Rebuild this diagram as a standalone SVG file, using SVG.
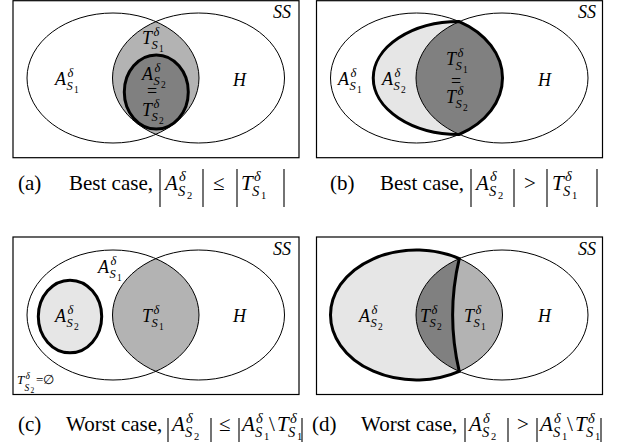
<svg xmlns="http://www.w3.org/2000/svg" width="619" height="444" viewBox="0 0 619 444" font-family="'Liberation Serif', 'Times New Roman', Times, serif">
<style>
.box{fill:none;stroke:#000;stroke-width:1.2}
.thin{fill:none;stroke:#000;stroke-width:1}
.thick{fill:none;stroke:#000;stroke-width:3}
.dl{stroke:#000;stroke-width:1.1}
.l{font-style:italic;font-size:18px}
.s{font-style:italic;font-size:12.5px}
.d{font-size:9.5px}
.u{font-size:18px}
.cap{font-size:21px}
.ci{font-style:italic;font-size:21px}
.cs{font-style:italic;font-size:14.5px}
.cd{font-size:10.5px}
.g1{fill:#e6e6e6}
.g2{fill:#b3b3b3}
.g3{fill:#808080}
</style>

<!-- Panel (a) -->
<g id="panel-a">
  <rect class="box" x="13" y="0.7" width="286" height="157"/>
  <path class="g2" d="M155.75 21.6 A86 65 0 0 1 155.75 134.4 A86 65 0 0 1 155.75 21.6 Z"/>
  <ellipse class="g3" cx="156.3" cy="92" rx="32" ry="37"/>
  <ellipse class="thin" cx="113" cy="78" rx="86" ry="65"/>
  <ellipse class="thin" cx="198.5" cy="78" rx="86" ry="65"/>
  <ellipse class="thick" cx="156.3" cy="92" rx="32" ry="37"/>
  <text class="l" x="291" y="18" text-anchor="end">SS</text>
  <g id="a-AS1"><text class="l" x="55" y="85">A</text><text class="s" x="67.5" y="77">δ</text><text class="s" x="66.5" y="90">S</text><text class="d" x="74" y="93">1</text></g>
  <g id="a-TS1"><text class="l" x="142" y="44">T</text><text class="s" x="153.5" y="36">δ</text><text class="s" x="151.5" y="49">S</text><text class="d" x="159" y="52">1</text></g>
  <g id="a-AS2"><text class="l" x="142" y="80">A</text><text class="s" x="154.5" y="72">δ</text><text class="s" x="153.5" y="85">S</text><text class="d" x="161" y="88">2</text></g>
  <text class="u" x="147" y="97">=</text>
  <g id="a-TS2"><text class="l" x="142" y="116">T</text><text class="s" x="153.5" y="108">δ</text><text class="s" x="151.5" y="121">S</text><text class="d" x="159" y="124">2</text></g>
  <text class="l" x="233" y="86">H</text>
</g>

<!-- Panel (b) -->
<g id="panel-b">
  <rect class="box" x="316.5" y="0.7" width="286" height="157"/>
  <path class="g1" d="M459.25 21.6 A86 56.4 0 0 0 459.25 134.4 A86 65 0 0 0 459.25 21.6 Z"/>
  <path class="g3" d="M459.25 21.6 A86 65 0 0 1 459.25 134.4 A86 65 0 0 1 459.25 21.6 Z"/>
  <ellipse class="thin" cx="416.5" cy="78" rx="86" ry="65"/>
  <ellipse class="thin" cx="502" cy="78" rx="86" ry="65"/>
  <path class="thick" d="M459.25 21.6 A86 56.4 0 0 0 459.25 134.4 A86 65 0 0 0 459.25 21.6 Z"/>
  <text class="l" x="596" y="18" text-anchor="end">SS</text>
  <g id="b-AS1"><text class="l" x="338" y="85">A</text><text class="s" x="350.5" y="77">δ</text><text class="s" x="349.5" y="90">S</text><text class="d" x="357" y="93">1</text></g>
  <g id="b-AS2"><text class="l" x="382" y="85">A</text><text class="s" x="394.5" y="77">δ</text><text class="s" x="393.5" y="90">S</text><text class="d" x="401" y="93">2</text></g>
  <g id="b-TS1"><text class="l" x="446" y="65">T</text><text class="s" x="457.5" y="57">δ</text><text class="s" x="455.5" y="70">S</text><text class="d" x="463" y="73">1</text></g>
  <text class="u" x="451" y="87">=</text>
  <g id="b-TS2"><text class="l" x="446" y="103">T</text><text class="s" x="457.5" y="95">δ</text><text class="s" x="455.5" y="108">S</text><text class="d" x="463" y="111">2</text></g>
  <text class="l" x="538" y="86">H</text>
</g>

<!-- Panel (c) -->
<g id="panel-c">
  <rect class="box" x="13" y="237" width="286" height="157.5"/>
  <path class="g2" d="M155.75 258.6 A86 65 0 0 1 155.75 371.4 A86 65 0 0 1 155.75 258.6 Z"/>
  <ellipse class="g1" cx="70" cy="316.5" rx="31.7" ry="36.3"/>
  <ellipse class="thin" cx="113" cy="315" rx="86" ry="65"/>
  <ellipse class="thin" cx="198.5" cy="315" rx="86" ry="65"/>
  <ellipse class="thick" cx="70" cy="316.5" rx="31.7" ry="36.3"/>
  <text class="l" x="291" y="255" text-anchor="end">SS</text>
  <g id="c-AS1"><text class="l" x="98" y="273">A</text><text class="s" x="110.5" y="265">δ</text><text class="s" x="109.5" y="278">S</text><text class="d" x="117" y="281">1</text></g>
  <g id="c-AS2"><text class="l" x="55" y="322">A</text><text class="s" x="67.5" y="314">δ</text><text class="s" x="66.5" y="327">S</text><text class="d" x="74" y="330">2</text></g>
  <g id="c-TS1"><text class="l" x="142" y="322">T</text><text class="s" x="153.5" y="314">δ</text><text class="s" x="151.5" y="327">S</text><text class="d" x="159" y="330">1</text></g>
  <text class="l" x="233" y="322">H</text>
  <g id="c-TS2-empty"><text class="l" x="17" y="384" style="font-size:13px">T</text><text class="s" x="25.5" y="378.5" style="font-size:9.5px">δ</text><text class="s" x="24.5" y="391" style="font-size:9.5px">S</text><text class="d" x="30.5" y="393" style="font-size:7.5px">2</text><text class="u" x="36" y="384" style="font-size:13px">=∅</text></g>
</g>

<!-- Panel (d) -->
<g id="panel-d">
  <rect class="box" x="316.5" y="237" width="286" height="157.5"/>
  <ellipse class="g1" cx="416.5" cy="315" rx="86" ry="65"/>
  <path class="g3" d="M459.25 258.6 A86 65 0 0 1 459.25 371.4 A86 65 0 0 1 459.25 258.6 Z"/>
  <path class="g2" d="M459.25 258.6 Q446 315 459.25 371.4 A86 65 0 0 0 459.25 258.6 Z"/>
  <ellipse class="thin" cx="416.5" cy="315" rx="86" ry="65"/>
  <ellipse class="thin" cx="502" cy="315" rx="86" ry="65"/>
  <path class="thick" d="M459.25 258.6 A86 65 0 1 0 459.25 371.4 Q446 315 459.25 258.6 Z"/>
  <text class="l" x="596" y="255" text-anchor="end">SS</text>
  <g id="d-AS2"><text class="l" x="359" y="322">A</text><text class="s" x="371.5" y="314">δ</text><text class="s" x="370.5" y="327">S</text><text class="d" x="378" y="330">2</text></g>
  <g id="d-TS2"><text class="l" x="420" y="322">T</text><text class="s" x="431.5" y="314">δ</text><text class="s" x="429.5" y="327">S</text><text class="d" x="437" y="330">2</text></g>
  <g id="d-TS1"><text class="l" x="464" y="322">T</text><text class="s" x="475.5" y="314">δ</text><text class="s" x="473.5" y="327">S</text><text class="d" x="481" y="330">1</text></g>
  <text class="l" x="538" y="322">H</text>
</g>

<!-- Captions -->
<g id="caption-a">
  <text class="cap" x="18" y="190">(a)</text>
  <text class="cap" x="69" y="190">Best case,</text>
  <line class="dl" x1="160" y1="169" x2="160" y2="207"/>
  <text class="ci" x="165" y="190">A</text><text class="cs" x="179" y="181">δ</text><text class="cs" x="178" y="196">S</text><text class="cd" x="187" y="199">2</text>
  <line class="dl" x1="203" y1="169" x2="203" y2="207"/>
  <text class="cap" x="213" y="190">≤</text>
  <line class="dl" x1="237" y1="169" x2="237" y2="207"/>
  <text class="ci" x="241" y="190">T</text><text class="cs" x="254" y="181">δ</text><text class="cs" x="252" y="196">S</text><text class="cd" x="261" y="199">1</text>
  <line class="dl" x1="284" y1="169" x2="284" y2="207"/>
</g>
<g id="caption-b">
  <text class="cap" x="330" y="190">(b)</text>
  <text class="cap" x="380" y="190">Best case,</text>
  <line class="dl" x1="471" y1="169" x2="471" y2="207"/>
  <text class="ci" x="476" y="190">A</text><text class="cs" x="490" y="181">δ</text><text class="cs" x="489" y="196">S</text><text class="cd" x="498" y="199">2</text>
  <line class="dl" x1="514" y1="169" x2="514" y2="207"/>
  <text class="cap" x="524" y="190">&gt;</text>
  <line class="dl" x1="547" y1="169" x2="547" y2="207"/>
  <text class="ci" x="552" y="190">T</text><text class="cs" x="565" y="181">δ</text><text class="cs" x="563" y="196">S</text><text class="cd" x="572" y="199">1</text>
  <line class="dl" x1="597" y1="169" x2="597" y2="207"/>
</g>
<g id="caption-c">
  <text class="cap" x="18" y="431">(c)</text>
  <text class="cap" x="66" y="431">Worst case,</text>
  <line class="dl" x1="168" y1="418" x2="168" y2="442"/>
  <text class="ci" x="172" y="431">A</text><text class="cs" x="186" y="423">δ</text><text class="cs" x="185" y="437">S</text><text class="cd" x="194" y="440">2</text>
  <line class="dl" x1="211" y1="418" x2="211" y2="442"/>
  <text class="cap" x="219" y="431">≤</text>
  <line class="dl" x1="239" y1="418" x2="239" y2="442"/>
  <text class="ci" x="242" y="431">A</text><text class="cs" x="256" y="423">δ</text><text class="cs" x="255" y="437">S</text><text class="cd" x="264" y="440">1</text>
  <text class="cap" x="269" y="431">\</text>
  <text class="ci" x="277" y="431">T</text><text class="cs" x="290" y="423">δ</text><text class="cs" x="288" y="437">S</text><text class="cd" x="297" y="440">1</text>
  <line class="dl" x1="302" y1="418" x2="302" y2="442"/>
</g>
<g id="caption-d">
  <text class="cap" x="312" y="431">(d)</text>
  <text class="cap" x="361" y="431">Worst case,</text>
  <line class="dl" x1="465" y1="418" x2="465" y2="442"/>
  <text class="ci" x="469" y="431">A</text><text class="cs" x="483" y="423">δ</text><text class="cs" x="482" y="437">S</text><text class="cd" x="491" y="440">2</text>
  <line class="dl" x1="508" y1="418" x2="508" y2="442"/>
  <text class="cap" x="517" y="431">&gt;</text>
  <line class="dl" x1="537" y1="418" x2="537" y2="442"/>
  <text class="ci" x="540" y="431">A</text><text class="cs" x="554" y="423">δ</text><text class="cs" x="553" y="437">S</text><text class="cd" x="562" y="440">1</text>
  <text class="cap" x="567" y="431">\</text>
  <text class="ci" x="575" y="431">T</text><text class="cs" x="588" y="423">δ</text><text class="cs" x="586" y="437">S</text><text class="cd" x="595" y="440">1</text>
  <line class="dl" x1="601" y1="418" x2="601" y2="442"/>
</g>
</svg>
